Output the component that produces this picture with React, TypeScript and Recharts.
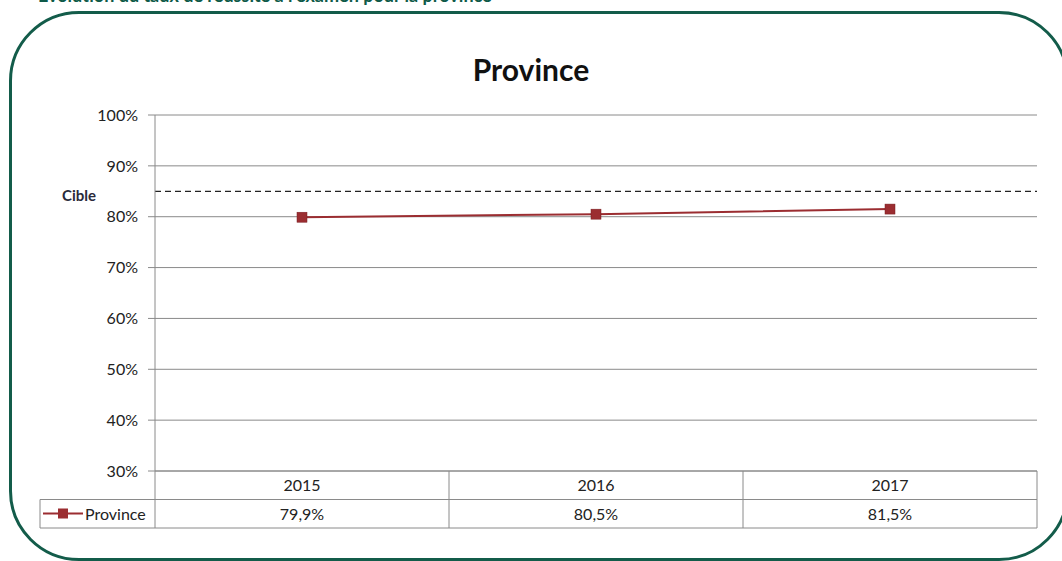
import React from "react";
import { LineChart, Line, XAxis, YAxis, CartesianGrid, ReferenceLine } from "recharts";

const years = ["2015", "2016", "2017"];
const provinceRates = [79.9, 80.5, 81.5];
const yTicks = [30, 40, 50, 60, 70, 80, 90, 100];
const targetRate = 85;

const data = years.map((year, i) => ({ year, value: provinceRates[i] }));

const W = 1062;
const H = 561;
const Y_AXIS_W = 60;
const M = { top: 115, right: 25, left: 155 - Y_AXIS_W, bottom: 33 };
const TABLE_H = 57;
const ROW_H = 28.5;
const BAND = (W - 155 - M.right) / years.length;
const GREY = "#8a8a8a";
const RED = "#9b2d31";
const FONT = "Lato, 'Open Sans', sans-serif";
const TEXT_SIZE = 16;

const fmt = (v: number) => `${v.toFixed(1).replace(".", ",")}%`;

// x-axis ticks double as the data table under the plot
function TableTick(props: any) {
  const { x, y, payload, index } = props;
  const left = x - BAND / 2;
  const right = x + BAND / 2;
  const value = provinceRates[index];
  return (
    <g>
      <line x1={right} y1={y} x2={right} y2={y + TABLE_H} stroke={GREY} />
      <line x1={left} y1={y + ROW_H} x2={right} y2={y + ROW_H} stroke={GREY} />
      <line x1={left} y1={y + TABLE_H} x2={right} y2={y + TABLE_H} stroke={GREY} />
      <text x={x} y={y + 20} textAnchor="middle" fontSize={TEXT_SIZE} fill="#222" fontFamily={FONT}>
        {payload.value}
      </text>
      <text x={x} y={y + ROW_H + 20} textAnchor="middle" fontSize={TEXT_SIZE} fill="#222" fontFamily={FONT}>
        {fmt(value)}
      </text>
      {index === 0 && (
        <g>
          <line x1={left} y1={y} x2={left} y2={y + TABLE_H} stroke={GREY} />
          <line x1={40} y1={y + ROW_H} x2={left} y2={y + ROW_H} stroke={GREY} />
          <line x1={40} y1={y + TABLE_H} x2={left} y2={y + TABLE_H} stroke={GREY} />
          <line x1={40} y1={y + ROW_H} x2={40} y2={y + TABLE_H} stroke={GREY} />
          <line x1={43} y1={y + ROW_H + 14} x2={83} y2={y + ROW_H + 14} stroke={RED} strokeWidth={2} />
          <rect x={58} y={y + ROW_H + 9} width={10} height={10} fill={RED} />
          <text x={85} y={y + ROW_H + 20} fontSize={TEXT_SIZE} fill="#222" fontFamily={FONT}>
            Province
          </text>
        </g>
      )}
    </g>
  );
}

function SquareDot(props: any) {
  const { cx, cy } = props;
  return <rect x={cx - 5} y={cy - 5} width={10} height={10} fill={RED} stroke="#7a1f22" strokeWidth={0.5} />;
}

function CibleLabel(props: any) {
  const { viewBox } = props;
  return (
    <text x={viewBox.x - 93} y={viewBox.y + 10} fontSize={15} fontWeight={700} fill="#2a2a3a" fontFamily={FONT}>
      Cible
    </text>
  );
}

export default function App() {
  return (
    <div style={{ position: "absolute", left: 0, top: 0, width: W, height: H, overflow: "hidden", background: "#fff" }}>
      <div
        style={{
          position: "absolute",
          left: 38,
          top: -16,
          fontFamily: FONT,
          fontWeight: 700,
          fontSize: 18,
          color: "#0e5a48",
          whiteSpace: "nowrap",
        }}
      >
        Évolution du taux de réussite à l'examen pour la province
      </div>
      <div
        style={{
          position: "absolute",
          left: 9,
          top: 11,
          width: 1060,
          height: 550,
          border: "3px solid #135c4a",
          borderRadius: 70,
          boxSizing: "border-box",
        }}
      />
      <div
        style={{
          position: "absolute",
          left: 0,
          top: 51,
          width: W,
          textAlign: "center",
          fontFamily: FONT,
          fontWeight: 700,
          fontSize: 30,
          color: "#111",
        }}
      >
        Province
      </div>
      <div style={{ position: "absolute", left: 0, top: 0 }}>
        <LineChart width={W} height={H} data={data} margin={M}>
          <CartesianGrid vertical={false} stroke={GREY} />
          <XAxis
            dataKey="year"
            height={TABLE_H}
            axisLine={{ stroke: GREY }}
            tickLine={false}
            tickSize={0}
            tickMargin={0}
            tick={<TableTick />}
            interval={0}
            padding={{ left: BAND / 2, right: BAND / 2 }}
          />
          <YAxis
            domain={[30, 100]}
            ticks={yTicks}
            width={Y_AXIS_W}
            axisLine={{ stroke: GREY }}
            tickLine={{ stroke: GREY }}
            tickSize={7}
            tickMargin={10}
            tickFormatter={(v: number) => `${v}%`}
            tick={{ fontSize: TEXT_SIZE, fill: "#222", fontFamily: FONT }}
            interval={0}
          />
          <ReferenceLine y={targetRate} stroke="#222" strokeDasharray="6 4" strokeWidth={1.3} label={<CibleLabel />} />
          <Line
            dataKey="value"
            stroke={RED}
            strokeWidth={2}
            dot={<SquareDot />}
            activeDot={false}
            isAnimationActive={false}
          />
        </LineChart>
      </div>
    </div>
  );
}
